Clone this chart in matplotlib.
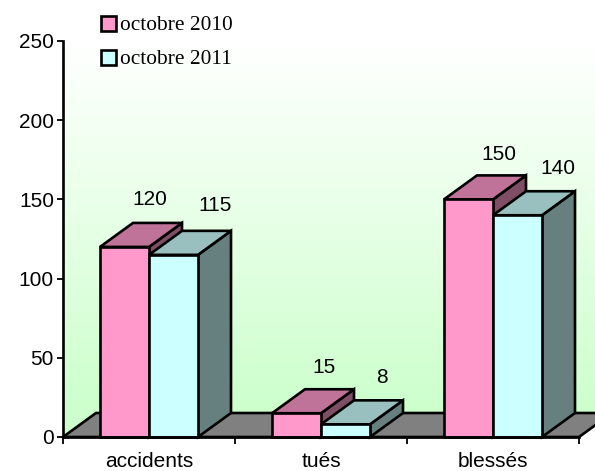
"""Accidents, tués et blessés : octobre 2010 / octobre 2011, barres en pseudo-3D."""

import numpy as np
import matplotlib
matplotlib.use("Agg")
import matplotlib.pyplot as plt
from matplotlib.patches import Polygon, Rectangle
from matplotlib.colors import LinearSegmentedColormap

categories = ["accidents", "tués", "blessés"]
series_names = ["octobre 2010", "octobre 2011"]
values_2010 = [120, 15, 150]
values_2011 = [115, 8, 140]
y_ticks = [0, 50, 100, 150, 200, 250]

FIG_W, FIG_H = 595, 471
X0_PX, X1_PX = 63, 579
Y0_PX, Y250_PX = 437, 41

# Depth of the 3D effect, in pixels then in data units
PX_PER_CAT = (X1_PX - X0_PX) / 3
PX_PER_VAL = (Y0_PX - Y250_PX) / 250
DX = 33 / PX_PER_CAT
DY = 24 / PX_PER_VAL
BAR_W = 49 / PX_PER_CAT
BAR_START = 37 / PX_PER_CAT

# The value labels were nudged by hand in the original (px from the bar centre)
LABEL_NUDGE = [[25.5, 27, 30], [41.5, 36.5, 40]]
LABEL_RISE = [[23, 22, 21], [25, 23, 23]]

FRONT = ["#ff99cc", "#ccffff"]
TOP = ["#bf7399", "#99bfbf"]
SIDE = ["#804d66", "#668080"]
LW = 1.9

plt.rcParams["font.family"] = ["Liberation Sans", "DejaVu Sans"]

fig = plt.figure(figsize=(FIG_W / 100, FIG_H / 100), dpi=100)

# Wall gradient, white at the top to pale green at the floor line
bg = fig.add_axes([0, 0, 1, 1], zorder=0)
bg.set_axis_off()
grad = np.clip((np.arange(FIG_H) - Y250_PX) / (413 - Y250_PX), 0, 1).reshape(-1, 1)
wall = bg.imshow(grad, aspect="auto", vmin=0, vmax=1,
                 cmap=LinearSegmentedColormap.from_list("wall", ["#ffffff", "#ccffcc"]),
                 extent=[0, FIG_W, FIG_H, 0])
bg.set_xlim(0, FIG_W)
bg.set_ylim(FIG_H, 0)
outline = Polygon([(X0_PX, Y0_PX), (X0_PX, Y250_PX), (FIG_W, Y250_PX), (FIG_W, 413), (96, 413)],
                  closed=True, transform=bg.transData, facecolor="none", edgecolor="none")
bg.add_patch(outline)
wall.set_clip_path(outline)

ax = fig.add_axes([X0_PX / FIG_W, 1 - Y0_PX / FIG_H,
                   (X1_PX - X0_PX) / FIG_W, (Y0_PX - Y250_PX) / FIG_H], zorder=1)
ax.patch.set_visible(False)
ax.set_xlim(0, 3)
ax.set_ylim(0, 250)


def poly(pts, color, z):
    ax.add_patch(Polygon(pts, closed=True, facecolor=color, edgecolor="black",
                         linewidth=LW, joinstyle="miter", clip_on=False, zorder=z))


# Floor
poly([(0, 0), (DX, DY), (3 + DX, DY), (3, 0)], "#808080", 1)

for i, cat in enumerate(categories):
    for s, vals in enumerate([values_2010, values_2011]):
        x = i + BAR_START + s * BAR_W
        v = vals[i]
        z = 2 + s
        poly([(x + BAR_W, 0), (x + BAR_W + DX, DY), (x + BAR_W + DX, v + DY), (x + BAR_W, v)], SIDE[s], z)
        poly([(x, v), (x + DX, v + DY), (x + BAR_W + DX, v + DY), (x + BAR_W, v)], TOP[s], z)
        poly([(x, 0), (x, v), (x + BAR_W, v), (x + BAR_W, 0)], FRONT[s], z)
        ax.text(x + BAR_W / 2 + LABEL_NUDGE[s][i] / PX_PER_CAT,
                v + DY + LABEL_RISE[s][i] / PX_PER_VAL, str(v),
                ha="center", va="center", fontsize=15, color="black", zorder=6)

ax.spines["top"].set_visible(False)
ax.spines["right"].set_visible(False)
for side in ["left", "bottom"]:
    ax.spines[side].set_linewidth(LW)
    ax.spines[side].set_zorder(7)
ax.set_yticks(y_ticks)
ax.set_xticks([0, 1, 2, 3])
ax.set_xticklabels([])
ax.set_xticks([0.5, 1.5, 2.5], minor=True)
ax.set_xticklabels(categories, minor=True)
ax.tick_params(axis="x", which="major", direction="out", length=5, width=1.3)
ax.tick_params(axis="x", which="minor", length=0, pad=10.5, labelsize=15)
ax.tick_params(axis="y", direction="out", length=4.5, width=1.3, pad=2, labelsize=15)

# Legend, placed by hand
for name, color, top_px in zip(series_names, FRONT, [16, 50]):
    fig.add_artist(Rectangle((101 / FIG_W, 1 - (top_px + 15) / FIG_H), 15 / FIG_W, 15 / FIG_H,
                             facecolor=color, edgecolor="black", linewidth=1.9,
                             transform=fig.transFigure))
    fig.text(120 / FIG_W, 1 - (top_px + 9.5) / FIG_H, name, family="Liberation Serif",
             fontsize=15.4, va="center", ha="left", color="black")

fig.savefig("out.png", dpi=100)
